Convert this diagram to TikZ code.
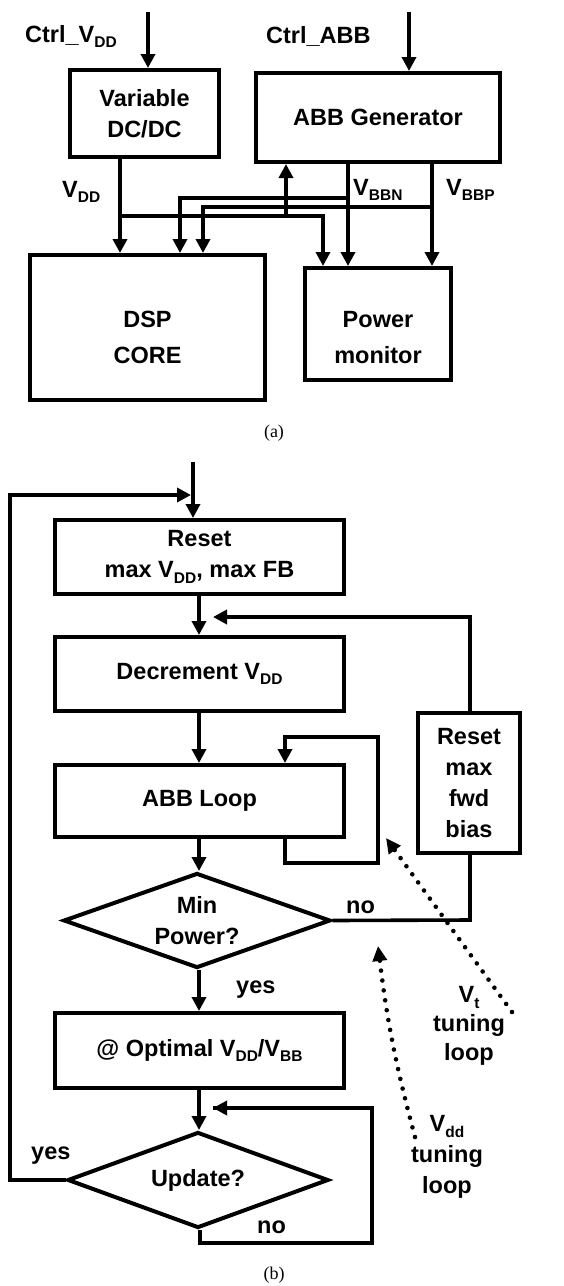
\documentclass[tikz,border=0pt]{standalone}
\usepackage{fontspec}
\setmainfont{Liberation Sans}
\newfontfamily\capfont{Liberation Serif}
\usetikzlibrary{shapes.geometric,arrows.meta}
% lowered, smaller subscript as used in the signal names
\newcommand\lowsub[1]{\raisebox{-5.5pt}{\fontsize{15.5}{15.5}\selectfont #1}}
\begin{document}
\begin{tikzpicture}[x=1pt,y=-1pt,
  every node/.style={font=\fontsize{23.5}{31}\selectfont\bfseries, inner sep=0pt},
  blk/.style={draw, line width=4pt, rectangle, align=center},
  decision/.style={draw, line width=4pt, diamond, align=center},
  wire/.style={line width=3.6pt},
  arr/.style={wire, -{Triangle[length=14pt,width=14pt]}},
  dotarr/.style={line width=4.6pt, line cap=round, dash pattern=on 0pt off 10pt,
                 -{Triangle[length=15pt,width=14pt]}},
  lbl/.style={anchor=base west},
  captext/.style={font=\fontsize{18}{18}\selectfont\capfont}]
\useasboundingbox (0,0) rectangle (564,1286);

%% ---------------- (a) block diagram ----------------
\node[blk, minimum width=149, minimum height=87] (var) at (144.5,113.5) {Variable\\DC/DC};
\node[blk, minimum width=244, minimum height=89] (abb) at (378,117.5) {ABB Generator};
\node[blk, minimum width=235, minimum height=145, text height=76pt, text depth=4pt,
  font=\fontsize{23.5}{36}\selectfont\bfseries]
  (dsp) at (147.5,327.5) {DSP\\CORE};
\node[blk, minimum width=146, minimum height=112, text height=80pt, text depth=2pt,
  font=\fontsize{23.5}{36}\selectfont\bfseries]
  (pm) at (378,324) {Power\\monitor};

\node[lbl] (lctrlv) at (25,42) {Ctrl\_V\lowsub{DD}};
\node[lbl] (lctrla) at (266,43) {Ctrl\_ABB};
\node[lbl] (lvdd) at (62,197) {V\lowsub{DD}};
\node[lbl] (lvbbn) at (353,195) {V\lowsub{BBN}};
\node[lbl] (lvbbp) at (446,195) {V\lowsub{BBP}};

\coordinate (cvin) at (148,12);
\coordinate (cain) at (409,12);
\coordinate (jvdd) at (120,216);
\coordinate (jvddr) at (323,216);
\coordinate (jup) at (286,216);
\coordinate (jn) at (348,198);
\coordinate (jnl) at (180,198);
\coordinate (jp) at (432,207);
\coordinate (jpl) at (203,207);

\draw[arr] (cvin) -- (cvin |- var.north);
\draw[arr] (cain) -- (cain |- abb.north);
% supply rail
\draw[arr] (jvdd |- var.south) -- (jvdd |- dsp.north);
\draw[arr] (jvdd) -- (jvddr) -- (jvddr |- pm.north);
\draw[arr] (jup) -- (jup |- abb.south);
% body bias rails
\draw[arr] (jn |- abb.south) -- (jn |- pm.north);
\draw[arr] (jn) -- (jnl) -- (jnl |- dsp.north);
\draw[arr] (jp |- abb.south) -- (jp |- pm.north);
\draw[arr] (jp) -- (jpl) -- (jpl |- dsp.north);

\node[captext] (capa) at (274,433) {(a)};

%% ---------------- (b) flow chart ----------------
\node[blk, minimum width=289, minimum height=74] (reset) at (199.5,557) {Reset\\max V\lowsub{DD}, max FB};
\node[blk, minimum width=289, minimum height=74] (decr) at (199.5,674) {Decrement V\lowsub{DD}};
\node[blk, minimum width=289, minimum height=72] (abbl) at (199.5,801) {ABB Loop};
\node[decision, minimum width=267, minimum height=95, aspect=2.8] (minp) at (197,920.5) {Min\\Power?};
\node[blk, minimum width=289, minimum height=75] (opt) at (199.5,1050.5) {@ Optimal V\lowsub{DD}/V\lowsub{BB}};
\node[decision, minimum width=261, minimum height=96, aspect=2.7] (upd) at (198,1180) {Update?};
\node[blk, minimum width=102, minimum height=140] (rfb) at (469,783) {Reset\\max\\fwd\\bias};

\coordinate (cx) at (199,0);
\coordinate (start) at (193,462);
\coordinate (lx) at (10,495);
\coordinate (fbr) at (470,617);
\coordinate (fbl) at (213,617);
\coordinate (slb) at (285,863);
\coordinate (slr) at (378,737);
\coordinate (nor) at (470,920);
\coordinate (ulb) at (200,1243);
\coordinate (ulr) at (372,1108);
\coordinate (ull) at (213,1108);

\draw[arr] (start) -- (start |- reset.north);
\draw[arr] (upd.west) -- (lx |- upd.west) -- (lx) -- ([xshift=-2pt]start |- lx);
\draw[arr] (cx |- reset.south) -- (cx |- decr.north);
\draw[arr] (rfb.north -| fbr) -- (fbr) -- (fbl);
\draw[arr] (cx |- decr.south) -- (cx |- abbl.north);
\draw[arr] (slb |- abbl.south) -- (slb) -- (slr |- slb) -- (slr) -- (slb |- slr) -- (slb |- abbl.north);
\draw[arr] (cx |- abbl.south) -- (cx |- minp.north);
\draw[wire] (minp.east) -- (nor) -- (nor |- rfb.south);
\draw[arr] (cx |- minp.south) -- (cx |- opt.north);
\draw[arr] (cx |- opt.south) -- (cx |- upd.north);
\draw[wire] (ulb |- upd.south) -- (ulb) -- (ulr |- ulb) -- (ulr) -- (ull);
\draw[arr] (ulr) -- (ull);

\node[lbl] (lno1) at (346,913) {no};
\node[lbl] (lyes1) at (236,993) {yes};
\node[lbl] (lyes2) at (31,1159) {yes};
\node[lbl] (lno2) at (257,1233) {no};

% tuning loop annotations
\coordinate (vtfrom) at (512,1012);
\coordinate (vtto) at (386,838);
\coordinate (vdfrom) at (415,1137);
\coordinate (vdto) at (378,946);
\draw[dotarr] (vtfrom) -- (vtto);
\draw[dotarr] (vdfrom) to[bend left=4] (vdto);
\node[align=center, font=\fontsize{23.5}{29}\selectfont\bfseries] (lvt) at (469,1026) {V\lowsub{t}\\tuning\\loop};
\node[align=center, font=\fontsize{23.5}{31}\selectfont\bfseries] (lvd) at (447,1157) {V\lowsub{dd}\\tuning\\loop};

\node[captext] (capb) at (274,1275) {(b)};
\end{tikzpicture}
\end{document}
